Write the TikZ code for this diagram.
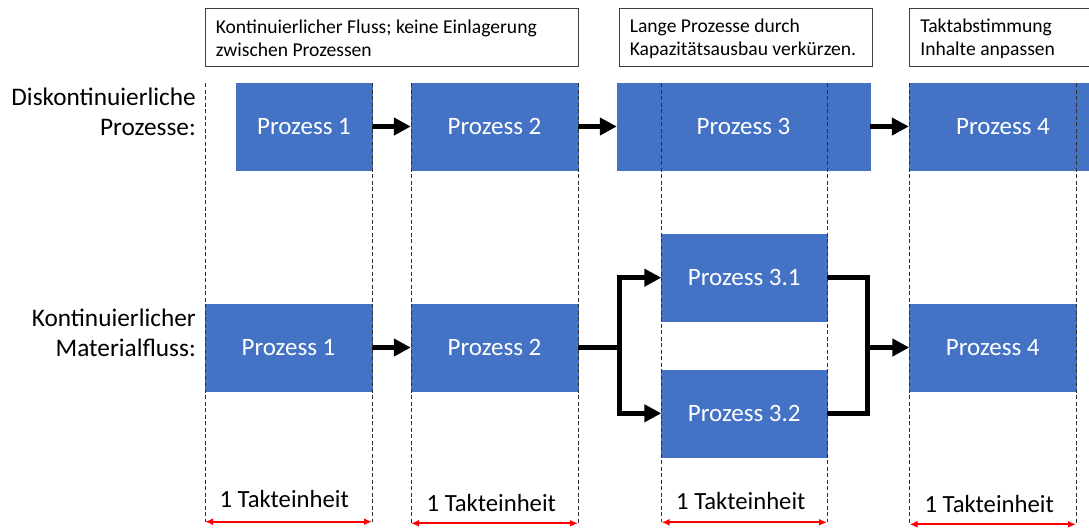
\documentclass[tikz,border=0pt]{standalone}
\usepackage{fontspec}
\setmainfont{Carlito}
\usetikzlibrary{arrows.meta}
\definecolor{procblue}{HTML}{4472C4}
\definecolor{guidegray}{HTML}{303030}

\begin{document}
\begin{tikzpicture}[x=1pt, y=-1pt,
  proc/.style={fill=procblue, draw=procblue, text=white, minimum height=87pt,
    inner sep=0pt, font=\fontsize{25}{29}\selectfont},
  note/.style={draw=black!75, line width=0.8pt, fill=white, minimum height=58pt,
    inner sep=0pt},
  notetext/.style={anchor=west, inner sep=0pt, align=left,
    font=\fontsize{19.6}{23}\selectfont},
  rowlabel/.style={align=right, inner sep=0pt, anchor=east,
    font=\fontsize{25.3}{30}\selectfont},
  takt/.style={inner sep=0pt, anchor=base, font=\fontsize{24.7}{28}\selectfont},
  flow/.style={line width=5pt, -{Triangle[length=17pt,width=17pt]}},
  link/.style={line width=5pt},
  guide/.style={guidegray, line width=0.8pt, dash pattern=on 4pt off 2.5pt},
  span/.style={red, line width=2pt, {Latex[length=8pt,width=7pt]}-{Latex[length=8pt,width=7pt]}}
]
\clip (0,0) rectangle (1089,528);
\fill[white] (0,0) rectangle (1089,528);

% notes above the columns
\node[note, minimum width=373pt] (n1) at (391.5,37.7) {};
\node[note, minimum width=253pt] (n2) at (745.5,37.7) {};
\node[note, minimum width=190pt] (n3) at (1004.5,37.7) {};
\node[notetext] (n1t) at ([xshift=11pt,yshift=-1pt]n1.west)
  {Kontinuierlicher Fluss; keine Einlagerung\\zwischen Prozessen};
\node[notetext] (n2t) at ([xshift=11pt,yshift=-1pt]n2.west)
  {Lange Prozesse durch\\Kapazitätsausbau verkürzen.};
\node[notetext] (n3t) at ([xshift=11pt,yshift=-1pt]n3.west)
  {Taktabstimmung\\Inhalte anpassen};

% row labels
\node[rowlabel] (lab1) at (196,112) {Diskontinuierliche\\Prozesse:};
\node[rowlabel] (lab2) at (196,333) {Kontinuierlicher\\Materialfluss:};

% discontinuous row
\node[proc, minimum width=136pt] (tP1) at (304,126.5) {Prozess 1};
\node[proc, minimum width=167pt] (tP2) at (494.5,126.5) {Prozess 2};
\node[proc, minimum width=253pt] (tP3) at (743.5,126.5) {Prozess 3};
\node[proc, minimum width=188pt] (tP4) at (1003,126.5) {Prozess 4};

\draw[flow] (tP1.east) -- (tP2.west);
\draw[flow] (tP2.east) -- (tP3.west);
\draw[flow] (tP3.east) -- (tP4.west);

% continuous row
\node[proc, minimum width=167pt] (bP1) at (288.5,347.5) {Prozess 1};
\node[proc, minimum width=167pt] (bP2) at (494.5,347.5) {Prozess 2};
\node[proc, minimum width=165.5pt] (bP31) at (744.25,277.7) {Prozess 3.1};
\node[proc, minimum width=165.5pt] (bP32) at (744.25,413.3) {Prozess 3.2};
\node[proc, minimum width=166.5pt] (bP4) at (992.75,347.5) {Prozess 4};

\coordinate (split) at (619,347.5);
\coordinate (merge) at (867,347.5);

\draw[flow] (bP1.east) -- (bP2.west);
\draw[link] (bP2.east) -- ([xshift=2.5pt]split);
\draw[flow] (split) |- (bP31.west);
\draw[flow] (split) |- (bP32.west);
\draw[link] (bP31.east) -| (merge);
\draw[link] (bP32.east) -| (merge);
\draw[flow] ([xshift=-2.5pt]merge) -- (bP4.west);

% cycle grid lines
\foreach \i/\gx/\gy in {1/205/521.7, 2/372/521.7, 3/411/523.3, 4/578/523.3,
                        5/661.5/522.3, 6/827/522.3, 7/909.5/524.3, 8/1076/524.3} {
  \coordinate (gt\i) at (\gx,83);
  \coordinate (gb\i) at (\gx,\gy);
  \draw[guide] (gt\i) -- (gb\i);
}

% cycle spans
\draw[span] (gb1) -- (gb2);
\draw[span] (gb3) -- (gb4);
\draw[span] (gb5) -- (gb6);
\draw[span] (gb7) -- (gb8);

\node[takt] (k1) at (284.2,507) {1 Takteinheit};
\node[takt] (k2) at (491.3,511.7) {1 Takteinheit};
\node[takt] (k3) at (740.8,509) {1 Takteinheit};
\node[takt] (k4) at (989.2,512.3) {1 Takteinheit};
\end{tikzpicture}
\end{document}
